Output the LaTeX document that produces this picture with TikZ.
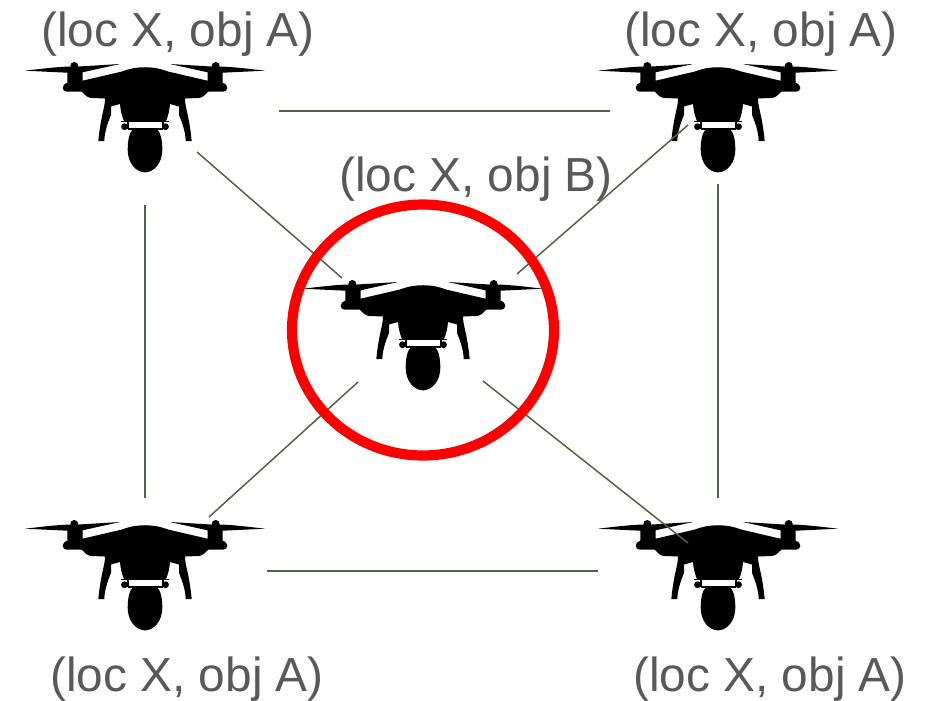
\documentclass[tikz,border=0pt]{standalone}
\usepackage{fontspec}
\setmainfont{Liberation Sans}
\definecolor{labelgray}{RGB}{89, 89, 89}
\definecolor{linkgreen}{RGB}{84, 96, 76}
\definecolor{ringred}{RGB}{255, 0, 0}
\usepackage{tikz}
\usetikzlibrary{shapes.geometric, positioning, calc}

\begin{document}
\begin{tikzpicture}[
  x=0.02cm, y=-0.02cm,
  lbl/.style={anchor=base, inner sep=0pt, text=labelgray, font=\fontsize{27.2}{30}\selectfont},
  link/.style={draw=linkgreen, line width=0.85pt},
  ring/.style={draw=ringred, line width=5.8pt, ellipse, inner sep=0pt},
  drone/.pic={
    \foreach \s in {1,-1}{
      \begin{scope}[xscale=\s]
        % airframe, arm, blade and leg
        \fill[black] (0.5,-52.7) -- (0,-52.7) .. controls (-9,-52.7) and (-15,-51.5) .. (-23,-48.5)
          -- (-62.5,-39.3) -- (-62.5,-47.7) -- (-25,-56) -- (-66,-53.5) -- (-75,-53.5)
          .. controls (-90,-53) and (-105,-51) .. (-120,-49.3) -- (-77.7,-47.3) -- (-77.7,-37.3)
          .. controls (-84,-35) and (-84,-28.3) .. (-77,-28.3) -- (-63.3,-28.3)
          .. controls (-59,-24) and (-57,-22) .. (-53,-22) -- (-40,-21.5)
          .. controls (-40,-12) and (-44,-6) .. (-46.7,21) -- (-40.7,21)
          .. controls (-40.5,12) and (-37,2) .. (-34,-5) -- (-34,-13.5) -- (-25,-16)
          .. controls (-24.5,-10) and (-23.5,-5) .. (-21,1.2) -- (0.5,1.2) -- cycle;
        \fill[black] (-70.7,-54) circle (4);
        % collar
        \fill[black] (-24.3,0.8) rectangle (0.5,2.3);
        \fill[black] (-18.5,2) rectangle (-16.5,9);
        \fill[black] (-20.5,6.7) circle (3.4);
        \fill[black] (-17.5,8) rectangle (0.5,10);
        % camera
        \fill[black] (0.5,9) -- (-12,9) .. controls (-16,13) and (-17.3,21) .. (-17.3,30)
          .. controls (-17.3,43) and (-9,52.3) .. (0,52.3) -- (0.5,52.3) -- cycle;
      \end{scope}
    }
  }
]
  \useasboundingbox (0,0) rectangle (925,700);

  \pic (droneTL) at (145,120) {drone};
  \pic (droneTR) at (718,120) {drone};
  \pic (droneC) at (423,338) {drone};
  \pic (droneBL) at (145,578) {drone};
  \pic (droneBR) at (718,578) {drone};

  \node[lbl] (lblTL) at (178,46) {(loc X, obj A)};
  \node[lbl] (lblTR) at (761,46) {(loc X, obj A)};
  \node[lbl] (lblC) at (476,191) {(loc X, obj B)};
  \node[lbl] (lblBL) at (187,691) {(loc X, obj A)};
  \node[lbl] (lblBR) at (770,691) {(loc X, obj A)};

  \coordinate (topA) at (279,111);
  \coordinate (topB) at (610,111);
  \coordinate (botA) at (267,571);
  \coordinate (botB) at (598,571);
  \coordinate (lftA) at (145,205);
  \coordinate (lftB) at (145,498);
  \coordinate (rgtA) at (718,184);
  \coordinate (rgtB) at (718,498);
  \coordinate (tlA) at (197,152);
  \coordinate (tlB) at (342,278);
  \coordinate (trA) at (688,125);
  \coordinate (trB) at (517,274);
  \coordinate (blA) at (358,382);
  \coordinate (blB) at (209,517);
  \coordinate (brA) at (483,381);
  \coordinate (brB) at (688,543);

  \draw[link] (topA) -- (topB);
  \draw[link] (botA) -- (botB);
  \draw[link] (lftA) -- (lftB);
  \draw[link] (rgtA) -- (rgtB);
  \draw[link] (tlA) -- (tlB);
  \draw[link] (trA) -- (trB);
  \draw[link] (blA) -- (blB);
  \draw[link] (brA) -- (brB);

  \node[ring, minimum width=5.24cm, minimum height=5.02cm] (ringC) at (423,330) {};
\end{tikzpicture}
\end{document}
